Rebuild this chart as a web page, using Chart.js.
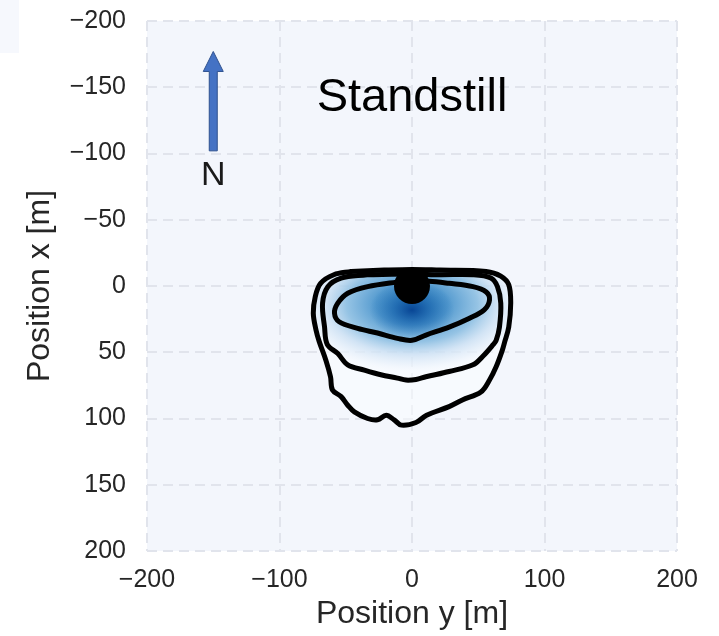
<!DOCTYPE html>
<html>
<head>
<meta charset="utf-8">
<title>Standstill</title>
<script src="https://cdn.jsdelivr.net/npm/chart.js@4/dist/chart.umd.min.js"></script>
<style>
  html, body { margin: 0; padding: 0; background: #ffffff; }
  #wrap { width: 719px; height: 636px; }
</style>
</head>
<body>
<div id="wrap"><canvas id="c" width="719" height="636"></canvas></div>
<script>
// Axis ticks (metres)
const yPosTicks = [-200, -100, 0, 100, 200];                         // horizontal axis: Position y
const xPosTicks = [-200, -150, -100, -50, 0, 50, 100, 150, 200];     // vertical axis: Position x

// Density contour rings, as [position y, position x] in metres
const outerRing = [
  [-46, -11], [-21, -12], [0, -12.5], [21, -12], [56, -11], [67, -7.5], [73, -1],
  [74.5, 13], [73, 31], [70, 42], [68, 49], [63.5, 61], [58.5, 71], [52, 80],
  [38, 86], [28, 91], [11, 97.5], [3, 103], [-8, 105], [-13.5, 101], [-19.5, 97.5],
  [-26, 101], [-33.5, 100], [-43.5, 95], [-48.5, 90], [-53.5, 83.5], [-60, 78.5],
  [-61.5, 68.5], [-65, 56], [-70, 42], [-72.5, 33], [-74.5, 20.5], [-73, 8],
  [-69, -2], [-59, -8.5], [-46, -11]
];
const middleRing = [
  [-34, -8.5], [0, -9], [21, -8.5], [46, -8.5], [59.5, -6], [64.5, 0.5], [67, 13],
  [66, 31], [63.5, 41], [61, 44.5], [53.5, 53], [46, 59.5], [28, 64.5], [10.5, 68.5],
  [3, 70.5], [-4.5, 71], [-11, 69.5], [-23.5, 67], [-36, 63.5], [-48.5, 59.5],
  [-56, 51], [-64, 44], [-66, 31], [-67.5, 13], [-63.5, 0.5], [-53.5, -6], [-34, -8.5]
];
const innerRing = [
  [-8, -3.5], [13, -3.5], [28, -2], [46, 0.5], [56, 4.5], [58.5, 10.5], [54.5, 18],
  [43, 24.5], [28, 31], [10.5, 37], [0, 41], [-11, 39.5], [-26, 35.5], [-41, 32],
  [-55, 27], [-58.5, 20.5], [-56, 13], [-48.5, 5.5], [-33.5, 0.5], [-8, -3.5]
];

// Vehicle position at standstill
const vehiclePos = [0, 0];

// Smooth density shading: centre and radii (metres)
const densityBroadCentre = [0, 14];
const densityBroadRadius = [90, 52];
const densityCoreCentre = [0, 18];
const densityCoreRadius = [32, 22];

// North arrow and annotation
const northArrowY = -150;
const northArrowFrom = -102;
const northArrowTo = -177;
const northLabel = 'N';
const northLabelPos = [-150, -83];
const panelTitle = 'Standstill';
const panelTitlePos = [0, -142];

const FONT = "'Liberation Sans', Arial, sans-serif";
const toPts = ring => ring.map(([y, x]) => ({ x: y, y: x }));
const fmt = v => (v < 0 ? '\u2212' + Math.abs(v) : String(v));

const plotBackground = {
  id: 'plotBackground',
  beforeDraw(chart) {
    const { ctx, chartArea: a } = chart;
    ctx.save();
    // faint edge of the neighbouring panel
    ctx.fillStyle = '#f6f8fd';
    ctx.fillRect(0, 0, 19, 53);
    ctx.fillStyle = '#f3f6fc';
    ctx.fillRect(a.left, a.top, a.right - a.left, a.bottom - a.top);
    ctx.restore();
  }
};

function ellipseGlow(chart, centre, radius, stops) {
  const { ctx, scales: { x, y } } = chart;
  const cx = x.getPixelForValue(centre[0]);
  const cy = y.getPixelForValue(centre[1]);
  const rx = Math.abs(x.getPixelForValue(centre[0] + radius[0]) - cx);
  const ry = Math.abs(y.getPixelForValue(centre[1] + radius[1]) - cy);
  ctx.save();
  ctx.translate(cx, cy);
  ctx.scale(1, ry / rx);
  const g = ctx.createRadialGradient(0, 0, 0, 0, 0, rx);
  stops.forEach(([o, c]) => g.addColorStop(o, c));
  ctx.fillStyle = g;
  ctx.beginPath();
  ctx.arc(0, 0, rx, 0, Math.PI * 2);
  ctx.fill();
  ctx.restore();
}

// shaded density, kept inside the outermost contour
const densityShade = {
  id: 'densityShade',
  beforeDatasetsDraw(chart) {
    const { ctx, scales: { x, y } } = chart;
    ctx.save();
    ctx.beginPath();
    outerRing.forEach(([py, px], i) => {
      const X = x.getPixelForValue(py), Y = y.getPixelForValue(px);
      if (i === 0) ctx.moveTo(X, Y); else ctx.lineTo(X, Y);
    });
    ctx.closePath();
    ctx.clip();
    ctx.fillStyle = 'rgba(252,253,255,0.5)';
    ctx.fill();
    ellipseGlow(chart, densityBroadCentre, densityBroadRadius, [
      [0, 'rgba(45,125,188,1)'],
      [0.3, 'rgba(70,146,203,0.92)'],
      [0.55, 'rgba(125,182,222,0.8)'],
      [0.72, 'rgba(190,216,240,0.65)'],
      [0.88, 'rgba(226,237,249,0.45)'],
      [1, 'rgba(245,249,254,0)']
    ]);
    ellipseGlow(chart, densityCoreCentre, densityCoreRadius, [
      [0, 'rgba(8,69,148,1)'],
      [0.45, 'rgba(20,95,170,0.6)'],
      [1, 'rgba(33,113,181,0)']
    ]);
    ctx.restore();
  }
};

const annotations = {
  id: 'annotations',
  afterDatasetsDraw(chart) {
    const { ctx, scales: { x, y } } = chart;
    ctx.save();
    // north arrow
    const ax = x.getPixelForValue(northArrowY);
    const y0 = y.getPixelForValue(northArrowFrom);
    const y1 = y.getPixelForValue(northArrowTo);
    const shaft = 4, head = 10, headLen = 20;
    ctx.beginPath();
    ctx.moveTo(ax - shaft, y0);
    ctx.lineTo(ax - shaft, y1 + headLen);
    ctx.lineTo(ax - head, y1 + headLen);
    ctx.lineTo(ax, y1);
    ctx.lineTo(ax + head, y1 + headLen);
    ctx.lineTo(ax + shaft, y1 + headLen);
    ctx.lineTo(ax + shaft, y0);
    ctx.closePath();
    ctx.fillStyle = '#4472c4';
    ctx.fill();
    ctx.lineWidth = 1;
    ctx.strokeStyle = '#2f528f';
    ctx.stroke();

    ctx.fillStyle = '#1a1a1a';
    ctx.textAlign = 'center';
    ctx.textBaseline = 'middle';
    ctx.font = '34px ' + FONT;
    ctx.fillText(northLabel, x.getPixelForValue(northLabelPos[0]), y.getPixelForValue(northLabelPos[1]));

    ctx.fillStyle = '#000000';
    ctx.font = '47px ' + FONT;
    ctx.fillText(panelTitle, x.getPixelForValue(panelTitlePos[0]), y.getPixelForValue(panelTitlePos[1]));
    ctx.restore();
  }
};

const ringStyle = {
  type: 'line',
  showLine: true,
  borderColor: '#000000',
  borderWidth: 5,
  pointRadius: 0,
  tension: 0.35,
  fill: false,
  borderJoinStyle: 'round',
  borderCapStyle: 'round'
};

new Chart(document.getElementById('c'), {
  type: 'scatter',
  data: {
    datasets: [
      Object.assign({ label: 'outer', data: toPts(outerRing) }, ringStyle),
      Object.assign({ label: 'middle', data: toPts(middleRing) }, ringStyle),
      Object.assign({ label: 'inner', data: toPts(innerRing) }, ringStyle),
      {
        label: 'vehicle',
        data: [{ x: vehiclePos[0], y: vehiclePos[1] }],
        pointRadius: 18,
        pointHoverRadius: 18,
        backgroundColor: '#000000',
        borderColor: '#000000',
        borderWidth: 0
      }
    ]
  },
  options: {
    responsive: false,
    animation: false,
    events: [],
    layout: { padding: { left: 0, right: 42, top: 21, bottom: 0 } },
    plugins: { legend: { display: false }, tooltip: { enabled: false } },
    scales: {
      x: {
        type: 'linear',
        min: -200, max: 200,
        afterBuildTicks: s => { s.ticks = yPosTicks.map(v => ({ value: v })); },
        afterFit: s => { s.height = 85; s.paddingLeft = 0; s.paddingRight = 0; },
        ticks: {
          callback: v => fmt(v),
          color: '#262626',
          font: { family: FONT, size: 25 },
          padding: 14,
          maxRotation: 0
        },
        grid: { color: '#e1e4ec', lineWidth: 2, drawTicks: false },
        border: { display: false, dash: [10, 6] },
        title: {
          display: true,
          text: 'Position y [m]',
          color: '#262626',
          font: { family: FONT, size: 32 },
          padding: { top: 0, bottom: 3 }
        }
      },
      y: {
        type: 'linear',
        reverse: true,
        min: -200, max: 200,
        afterBuildTicks: s => { s.ticks = xPosTicks.map(v => ({ value: v })); },
        afterFit: s => { s.width = 147; s.paddingTop = 0; s.paddingBottom = 0; },
        ticks: {
          callback: v => fmt(v),
          color: '#262626',
          font: { family: FONT, size: 25 },
          padding: 21
        },
        grid: { color: '#e1e4ec', lineWidth: 2, drawTicks: false },
        border: { display: false, dash: [10, 6] },
        title: {
          display: true,
          text: 'Position x [m]',
          color: '#262626',
          font: { family: FONT, size: 32 },
          padding: { top: 21, bottom: 0 }
        }
      }
    }
  },
  plugins: [plotBackground, densityShade, annotations]
});
</script>
</body>
</html>
